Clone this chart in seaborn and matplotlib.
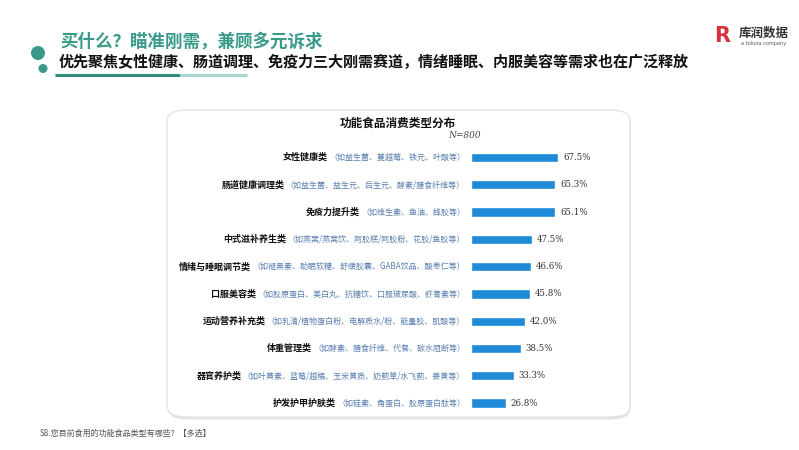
import matplotlib
matplotlib.use("Agg")
import matplotlib.pyplot as plt
import seaborn as sns
import pandas as pd
from matplotlib.patches import FancyBboxPatch, Ellipse
from matplotlib.lines import Line2D
from matplotlib.transforms import blended_transform_factory

sns.set_theme(style="white")
plt.rcParams['font.family'] = ['Noto Sans CJK SC', 'DejaVu Sans']

categories = ["女性健康类", "肠道健康调理类", "免疫力提升类", "中式滋补养生类", "情绪与睡眠调节类",
              "口服美容类", "运动营养补充类", "体重管理类", "器官养护类", "护发护甲护肤类"]
examples = ["（如益生菌、蔓越莓、铁元、叶酸等）",
            "（如益生菌、益生元、后生元、酵素/膳食纤维等）",
            "（如维生素、鱼油、蜂胶等）",
            "（如燕窝/燕窝饮、阿胶糕/阿胶粉、花胶/鱼胶等）",
            "（如褪黑素、助眠软糖、舒缓胶囊、GABA饮品、酸枣仁等）",
            "（如胶原蛋白、美白丸、抗糖饮、口服玻尿酸、虾青素等）",
            "（如乳清/植物蛋白粉、电解质水/粉、能量胶、肌酸等）",
            "（如酵素、膳食纤维、代餐、碳水阻断等）",
            "（如叶黄素、蓝莓/越橘、玉米黄质、奶蓟草/水飞蓟、姜黄等）",
            "（如硅素、角蛋白、胶原蛋白肽等）"]
values = [67.5, 65.3, 65.1, 47.5, 46.6, 45.8, 42.0, 38.5, 33.3, 26.8]

chart_title = "功能食品消费类型分布"
sample_note = "N=800"
page_title = "买什么？瞄准刚需，兼顾多元诉求"
page_subtitle = "优先聚焦女性健康、肠道调理、免疫力三大刚需赛道，情绪睡眠、内服美容等需求也在广泛释放"
footnote = "S8.您目前食用的功能食品类型有哪些？【多选】"

W, H = 799, 450
fig = plt.figure(figsize=(W / 100, H / 100), dpi=100)
fig.patch.set_facecolor("white")

def fx(px):
    return px / W

def fy(py):
    return 1 - py / H

# card with soft shadow
for i, a in enumerate([0.05, 0.05, 0.06]):
    off = 3 - i
    sh = FancyBboxPatch((fx(167 + off * 0.3), fy(417 + off)), fx(630 - 167), (417 - 110) / H,
                        boxstyle="round,pad=0,rounding_size=0.025", transform=fig.transFigure,
                        facecolor="#000000", edgecolor="none", alpha=a, zorder=0)
    fig.patches.append(sh)
card = FancyBboxPatch((fx(167), fy(417)), fx(630 - 167), (417 - 110) / H,
                      boxstyle="round,pad=0,rounding_size=0.025", transform=fig.transFigure,
                      facecolor="white", edgecolor="#e3e6e8", linewidth=1.0, zorder=1)
fig.patches.append(card)

# chart axes
left_px, right_px = 471, 600
top_px, bot_px = 143.9, 416.7
ax = fig.add_axes([fx(left_px), fy(bot_px), fx(right_px - left_px), (bot_px - top_px) / H])
ax.set_facecolor("none")
ax.set_zorder(3)

df = pd.DataFrame({"category": categories, "value": values})
sns.barplot(data=df, x="value", y="category", orient="h", color="#1E8AD8",
            width=0.34, saturation=1, ax=ax)
ax.set_xlim(0, 100)
ax.set_ylim(len(categories) - 0.5, -0.5)
ax.set_xlabel("")
ax.set_ylabel("")
ax.set_xticks([])
ax.set_yticks([])
for s in ax.spines.values():
    s.set_visible(False)

for i, v in enumerate(values):
    ax.text(v + 3.8, i, f"{v:.1f}%", va="center", ha="left", fontsize=6.2,
            color="#333333", family=["DejaVu Serif"])

trans = blended_transform_factory(ax.transAxes, ax.transData)
ex_x = (465 - left_px) / (right_px - left_px)
for i, (c, e) in enumerate(zip(categories, examples)):
    t = ax.text(ex_x, i, e, transform=trans, ha="right", va="center", fontsize=5.75,
                color="#5a7fb0", clip_on=False)
    ax.annotate(c, xy=(0, 0.5), xycoords=t, xytext=(-1, 0), textcoords="offset points",
                ha="right", va="center", fontsize=6.5, fontweight="bold", color="#111111",
                annotation_clip=False)

# chart title
fig.text(fx(398), fy(122.7), chart_title, ha="center", va="center", fontsize=8.4,
         fontweight="bold", color="#111111")
fig.text(fx(465), fy(135.7), sample_note, ha="center", va="center", fontsize=6.5,
         style="italic", color="#444444", family=["DejaVu Serif"])

# header
fig.patches.append(Ellipse((fx(38), fy(53)), 14 / W, 14 / H, transform=fig.transFigure,
                           facecolor="#3a9a8a", edgecolor="none"))
fig.patches.append(Ellipse((fx(43), fy(68.5)), 9 / W, 9 / H, transform=fig.transFigure,
                           facecolor="#3a9a8a", edgecolor="none"))
fig.lines.append(Line2D([fx(55), fx(180)], [fy(75), fy(75)], transform=fig.transFigure,
                        color="#2e8c7c", linewidth=2.2, solid_capstyle="butt"))
fig.lines.append(Line2D([fx(180), fx(247)], [fy(75), fy(75)], transform=fig.transFigure,
                        color="#a9d6cd", linewidth=2.2, solid_capstyle="butt"))
fig.text(fx(60), fy(41.5), page_title, ha="left", va="center", fontsize=12.6,
         fontweight="bold", color="#3a9a8a")
fig.text(fx(59), fy(61.5), page_subtitle, ha="left", va="center", fontsize=10.85,
         fontweight="bold", color="#111111")

# logo
fig.text(fx(722), fy(36), "R", ha="center", va="center", fontsize=15, fontweight="bold",
         color="#d4333b", family=["DejaVu Sans"])
fig.text(fx(764), fy(33), "库润数据", ha="center", va="center", fontsize=9,
         fontweight="bold", color="#333333")
fig.text(fx(764), fy(43), "a toluna company", ha="center", va="center", fontsize=3.6,
         color="#555555", family=["DejaVu Sans"])

# footnote
fig.text(fx(40), fy(433), footnote, ha="left", va="center", fontsize=5.8, color="#555555")

fig.savefig("out.png", dpi=100, facecolor="white")
